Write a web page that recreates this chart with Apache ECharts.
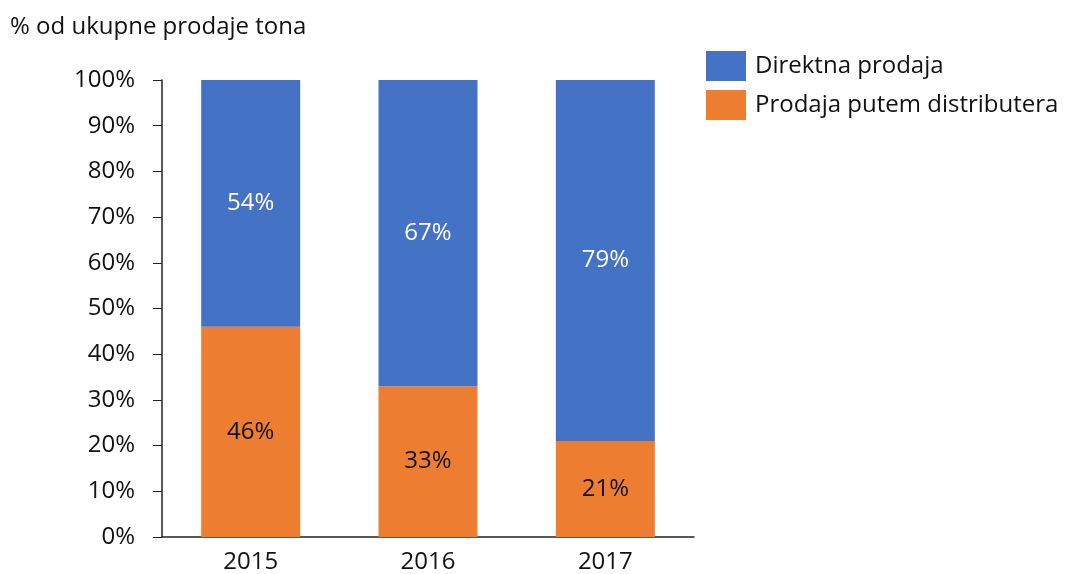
<!DOCTYPE html>
<html>
<head>
<meta charset="utf-8">
<script src="https://cdn.jsdelivr.net/npm/echarts@6/dist/echarts.min.js"></script>
<style>
  html, body { margin: 0; padding: 0; background: #fff; }
  #chart { width: 1068px; height: 574px; }
</style>
</head>
<body>
<div id="chart"></div>
<script>
//Données
const godine = ['2015', '2016', '2017'];
const direktna = [54, 67, 79];
const distributeri = [46, 33, 21];
const yTicks = [0, 10, 20, 30, 40, 50, 60, 70, 80, 90, 100];

const font = '"Open Sans", sans-serif';
const fs = 24;
let chart = echarts.init(document.getElementById('chart'));

chart.setOption({
  backgroundColor: '#fff',
  animation: false,
  title: {
    text: '% od ukupne prodaje tona',
    left: 5,
    top: 10,
    textStyle: { fontFamily: font, fontSize: fs, fontWeight: 'normal', color: '#111' }
  },
  legend: {
    orient: 'vertical',
    left: 701,
    top: 46,
    itemWidth: 40,
    itemHeight: 30,
    itemGap: 9,
    icon: 'rect',
    data: ['Direktna prodaja', 'Prodaja putem distributera'],
    textStyle: { fontFamily: font, fontSize: fs, color: '#111', padding: [0, 0, 0, 4] }
  },
  grid: { left: 162, top: 80, width: 532, height: 460, containLabel: false },
  xAxis: {
    type: 'category',
    data: godine,
    axisLine: { lineStyle: { color: '#222', width: 1.5 } },
    axisTick: { show: false },
    axisLabel: { fontFamily: font, fontSize: fs, color: '#111', margin: 13 }
  },
  yAxis: {
    type: 'value',
    min: 0,
    max: 100,
    interval: 10,
    splitLine: { show: false },
    axisLine: { show: true, lineStyle: { color: '#222', width: 1.5 } },
    axisTick: { show: true, length: 9, lineStyle: { color: '#222' } },
    axisLabel: {
      fontFamily: font, fontSize: fs, color: '#111', margin: 27,
      formatter: v => yTicks.includes(v) ? v + '%' : ''
    }
  },
  series: [
    {
      name: 'Prodaja putem distributera',
      type: 'bar',
      stack: 'ukupno',
      barWidth: 99,
      itemStyle: { color: '#ED7D31' },
      label: {
        show: true, position: 'inside', formatter: '{c}%',
        fontFamily: font, fontSize: fs, color: '#111'
      },
      data: distributeri
    },
    {
      name: 'Direktna prodaja',
      type: 'bar',
      stack: 'ukupno',
      barWidth: 99,
      itemStyle: { color: '#4472C4' },
      label: {
        show: true, position: 'inside', formatter: '{c}%',
        fontFamily: font, fontSize: fs, color: '#fff'
      },
      data: direktna
    }
  ]
});

window.addEventListener('resize', () => chart.resize());
</script>
</body>
</html>
